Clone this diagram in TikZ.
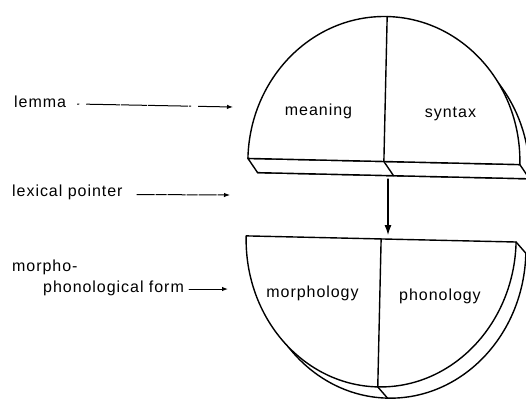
\documentclass[tikz,border=0pt]{standalone}
\usepackage{fontspec}
\newfontfamily\labelfont{Liberation Sans}[LetterSpace=6]
\usetikzlibrary{arrows.meta,calc}

\begin{document}
\begin{tikzpicture}[x=1pt, y=-1pt, line cap=round, line join=round,
  rim/.style={line width=1.4pt},
  txt/.style={font=\labelfont\fontsize{16}{19}\selectfont, inner sep=0pt},
  side/.style={txt, anchor=base west},
  part/.style={txt, anchor=base},
  pointer/.style={line width=1pt, -{Latex[length=6pt,width=4.5pt]}},
  broken/.style={pointer, line cap=butt, dash pattern=on 18pt off 1pt on 11pt off 1pt},
  link/.style={line width=1.1pt, -{Latex[length=10pt,width=7pt]}},
]
\useasboundingbox (0,0) rectangle (526,400);

\begin{scope}
  \clip (0,0) rectangle (526,400);
  \begin{scope}[rotate around={-1.3:(384,200)}]
    % upper half-disc: rear rim, underside, front face
    \filldraw[rim, fill=white] (257,175.5)
      arc[start angle=180, end angle=360, x radius=136, y radius=145] -- cycle;
    \filldraw[rim, fill=white] (247,161.5) -- (257,175.5) -- (529,175.5) -- (519,161.5) -- cycle;
    \filldraw[rim, fill=white] (247,161.5)
      arc[start angle=180, end angle=360, x radius=136, y radius=145] -- cycle;
    \draw[rim] (383,16.5) -- (383,161.5) -- (393,175.5);

    % lower half-disc: rear rim, front face
    \fill[white] (257,250)
      arc[start angle=180, end angle=0, x radius=135, y radius=148] -- cycle;
    \draw[rim] (257,250)
      arc[start angle=180, end angle=0, x radius=135, y radius=148];
    \filldraw[rim, fill=white] (247,239)
      arc[start angle=180, end angle=0, x radius=135, y radius=148] -- cycle;
    \draw[rim] (382,239) -- (382,387) -- (392,398);
    \draw[rim] (517,239) -- (527,250);
  \end{scope}
\end{scope}

% compartment labels
\node[part] (meaning) at (318.5,115) {meaning};
\node[part] (syntax) at (450.5,117) {syntax};
\node[part] (morphology) at (312.5,297) {morphology};
\node[part] (phonology) at (440,300) {phonology};

% side labels
\node[side] (lemma) at (14,107) {lemma};
\node[side] (pointer) at (12,196) {lexical pointer};
\node[side] (morpho) at (12,271) {morpho-};
\node[side] (form) at (43,292) {phonological form};

% arrow targets
\coordinate (lemmaend) at (233,107);
\coordinate (pointerend) at (230,195);
\coordinate (formend) at (228,289);
\coordinate (linktop) at (388,179);
\coordinate (linkend) at (388,235);

\draw[broken, dash pattern=on 2pt off 7pt on 34pt off 1pt on 26pt off 1pt on 40pt off 1pt]
  ($(lemma.base east)+(11,-3)$) -- (lemmaend);
\draw[broken] ($(pointer.base east)+(14,-1.5)$) -- (pointerend);
\draw[pointer] ($(form.base east)+(5,-3)$) -- (formend);
\draw[link] (linktop) -- (linkend);
\end{tikzpicture}
\end{document}
